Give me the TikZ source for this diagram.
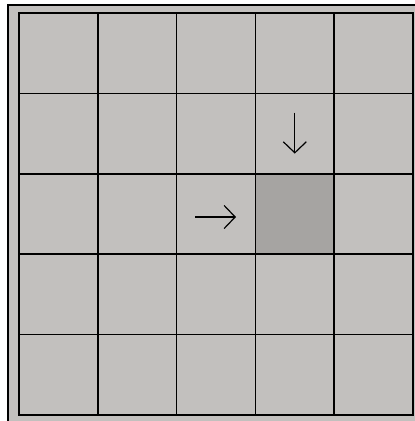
\documentclass[tikz,border=0pt]{standalone}
\usetikzlibrary{arrows.meta}
\definecolor{paper}{RGB}{194,192,190}
\definecolor{shade}{RGB}{166,164,162}
\tikzset{
  cell/.style={draw=black,line width=1.6pt,fill=paper,minimum width=78.8pt,minimum height=80.4pt,inner sep=0pt,outer sep=0pt},
  move/.style={line width=1.2pt,-{Straight Barb[length=11pt,width=23pt]}}
}
\begin{document}
\begin{tikzpicture}[x=1pt,y=-1pt]
    \useasboundingbox (0,0) rectangle (415,421);
    \fill[white] (0,0) rectangle (415,421);% page
    \filldraw[fill=paper,line width=1.8pt] (8,5) rectangle (425,430);% draw the frame
    % the board
    \foreach \r in {1,...,5}
        \foreach \c in {1,...,5}
            \node[cell] (c-\r-\c) at (19+78.8*\c-39.4,13+80.4*\r-40.2) {};
    \node[cell,fill=shade] (hit) at (c-3-4.center) {};% the dark square
    % the two moves
    \coordinate (down-a) at ([yshift=21pt]c-2-4.center);
    \coordinate (down-b) at ([yshift=-20pt]c-2-4.center);
    \coordinate (right-a) at ([xshift=-21pt,yshift=-3pt]c-3-3.center);
    \coordinate (right-b) at ([xshift=20pt,yshift=-3pt]c-3-3.center);
    \draw[move] (down-a) -- (down-b);% move down
    \draw[move] (right-a) -- (right-b);% move right
\end{tikzpicture}
\end{document}
